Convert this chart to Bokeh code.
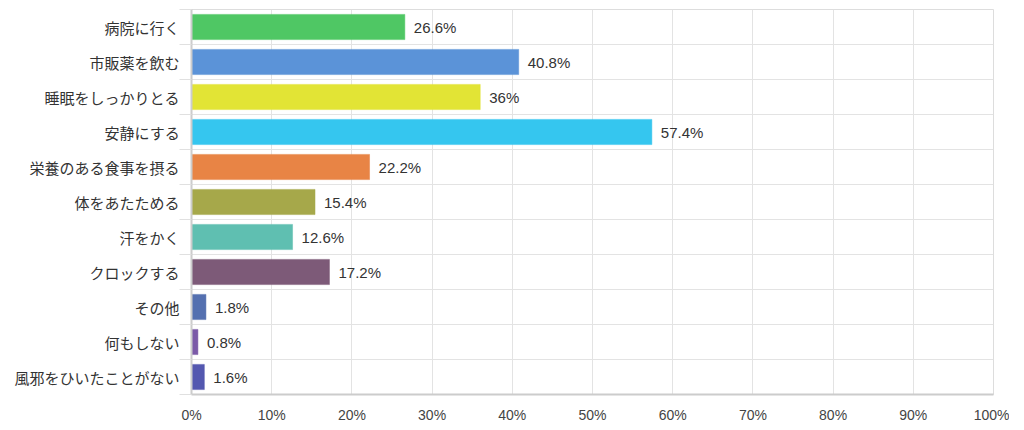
from bokeh.plotting import figure
from bokeh.models import ColumnDataSource, Range1d, FixedTicker
from bokeh.core.properties import value
from bokeh.embed import file_html
from bokeh.resources import INLINE

categories = ["病院に行く", "市販薬を飲む", "睡眠をしっかりとる", "安静にする", "栄養のある食事を摂る",
              "体をあたためる", "汗をかく", "クロックする", "その他", "何もしない", "風邪をひいたことがない"]
values = [26.6, 40.8, 36, 57.4, 22.2, 15.4, 12.6, 17.2, 1.8, 0.8, 1.6]
colors = ["#4fc764", "#5b93d8", "#e2e435", "#35c6ef", "#e88445", "#a6a84a",
          "#5fbfb1", "#7d5a78", "#5470b0", "#7b5aa8", "#5458b0"]
x_ticks = [0, 10, 20, 30, 40, 50, 60, 70, 80, 90, 100]
x_tick_labels = [f"{t}%" for t in x_ticks]

n = len(categories)
centers = [i + 0.5 for i in range(n)]
bounds = [i for i in range(n + 1)]

src = ColumnDataSource(dict(
    y=centers, v=values, c=colors,
    lbl=[f"{v:g}%" for v in values],
))

p = figure(output_backend="svg", toolbar_location=None,
           x_range=Range1d(0, 100), y_range=Range1d(n, 0),
           frame_width=802, frame_height=385,
           min_border_left=191, min_border_right=16, min_border_top=9, min_border_bottom=20)

p.hbar(y="y", right="v", left=0, height=0.72, fill_color="c", line_color="c",
       line_alpha=0.5, fill_alpha=1.0, source=src)
p.text(x="v", y="y", text="lbl", x_offset=9, text_baseline="middle", text_align="left",
       text_font=value("Liberation Sans"), text_font_size="15px", text_color="#333333", source=src)

p.outline_line_color = "#dddddd"
p.background_fill_color = "white"

p.xaxis.ticker = FixedTicker(ticks=x_ticks)
p.xaxis.major_label_overrides = {t: l for t, l in zip(x_ticks, x_tick_labels)}
p.xaxis.major_label_text_font = "Liberation Sans"
p.xaxis.major_label_text_font_size = "14px"
p.xaxis.major_label_text_color = "#444444"
p.xaxis.major_label_standoff = 6
p.xaxis.major_tick_line_color = None
p.xaxis.minor_tick_line_color = None
p.xaxis.axis_line_color = "#cccccc"
p.xaxis.axis_line_width = 2

p.yaxis.ticker = FixedTicker(ticks=centers, minor_ticks=bounds)
p.yaxis.major_label_overrides = {c: l for c, l in zip(centers, categories)}
p.yaxis.major_label_text_font = "Noto Sans CJK JP"
p.yaxis.major_label_text_font_size = "15px"
p.yaxis.major_label_text_color = "#333333"
p.yaxis.major_label_standoff = 0
p.yaxis.major_tick_line_color = None
p.yaxis.minor_tick_out = 12
p.yaxis.minor_tick_in = 0
p.yaxis.minor_tick_line_color = "#e0e0e0"
p.yaxis.axis_line_color = "#cccccc"
p.yaxis.axis_line_width = 2

p.xgrid.ticker = FixedTicker(ticks=x_ticks)
p.xgrid.grid_line_color = "#e3e3e3"
p.ygrid.ticker = FixedTicker(ticks=bounds)
p.ygrid.grid_line_color = "#e3e3e3"

open("out.html", "w").write(file_html(p, INLINE))
